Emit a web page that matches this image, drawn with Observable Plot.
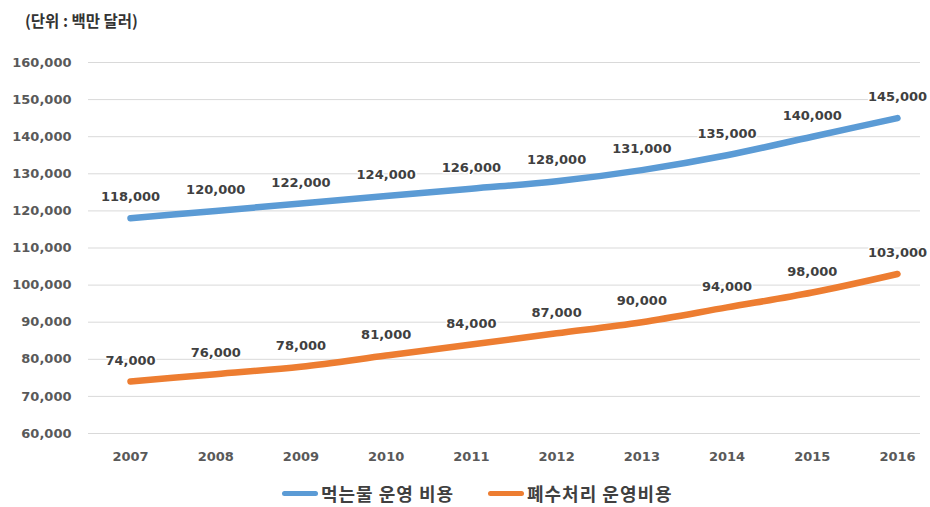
<!DOCTYPE html>
<html>
<head>
<meta charset="utf-8">
<script src="https://cdn.jsdelivr.net/npm/d3@7"></script>
<script src="https://cdn.jsdelivr.net/npm/@observablehq/plot@0.6"></script>
<style>
  body { margin: 0; background: #fff; width: 930px; height: 507px; position: relative; overflow: hidden; }
  #title { position: absolute; left: 25px; top: 9px; font-family: "Noto Sans CJK KR", sans-serif; font-weight: bold; font-size: 15.5px; color: #333; line-height: 22px; }
  #chart { position: absolute; left: 0; top: 40px; }
  .leg { position: absolute; top: 481px; display: flex; align-items: center; font-family: "Noto Sans CJK KR", sans-serif; font-weight: bold; font-size: 18px; color: #404040; letter-spacing: 1px; line-height: 24px; }
  .sw { width: 36px; height: 5px; border-radius: 3px; margin-right: 3px; }
</style>
</head>
<body>
<div id="title">(단위 : 백만 달러)</div>
<div id="chart"></div>
<div class="leg" style="left:282px"><div class="sw" style="background:#5B9BD5"></div><span id="l1"></span></div>
<div class="leg" style="left:488px"><div class="sw" style="background:#ED7D31"></div><span id="l2"></span></div>
<script>
const years = [2007, 2008, 2009, 2010, 2011, 2012, 2013, 2014, 2015, 2016];
const drinkingWater = [118000, 120000, 122000, 124000, 126000, 128000, 131000, 135000, 140000, 145000];
const wastewater = [74000, 76000, 78000, 81000, 84000, 87000, 90000, 94000, 98000, 103000];
const seriesNames = ["먹는물 운영 비용", "폐수처리 운영비용"];
const seriesColors = ["#5B9BD5", "#ED7D31"];
const yTicks = [60000, 70000, 80000, 90000, 100000, 110000, 120000, 130000, 140000, 150000, 160000];

document.getElementById("l1").textContent = seriesNames[0];
document.getElementById("l2").textContent = seriesNames[1];

const data = [
  ...years.map((y, i) => ({year: y, value: drinkingWater[i], series: seriesNames[0]})),
  ...years.map((y, i) => ({year: y, value: wastewater[i], series: seriesNames[1]}))
];

const numFont = "DejaVu Sans, sans-serif";

const chart = Plot.plot({
  width: 930,
  height: 440,
  marginLeft: 130,
  marginRight: 33,
  marginTop: 22,
  marginBottom: 47,
  style: { fontFamily: numFont, background: "transparent" },
  x: { domain: [2007, 2016] },
  y: { domain: [60000, 160000] },
  color: { domain: seriesNames, range: seriesColors },
  marks: [
    Plot.ruleY(yTicks, { stroke: "#d9d9d9", strokeWidth: 1, insetLeft: -42, insetRight: -23 }),
    Plot.axisY({ ticks: yTicks, tickSize: 0, tickPadding: 59, tickFormat: d3.format(","), fontSize: 13, fontWeight: "bold", fill: "#595959", label: null }),
    Plot.axisX({ ticks: years, tickSize: 0, tickPadding: 18, tickFormat: d => String(d), fontSize: 13, fontWeight: "bold", fill: "#595959", label: null }),
    Plot.line(data, { x: "year", y: "value", z: "series", stroke: "series", strokeWidth: 6.5, curve: "monotone-x", strokeLinecap: "round", strokeLinejoin: "round" }),
    Plot.text(data, { x: "year", y: "value", text: d => d3.format(",")(d.value), dy: -21, fontSize: 13, fontWeight: "bold", fill: "#404040", stroke: "white", strokeWidth: 3, paintOrder: "stroke" })
  ]
});
document.getElementById("chart").appendChild(chart);
</script>
</body>
</html>
